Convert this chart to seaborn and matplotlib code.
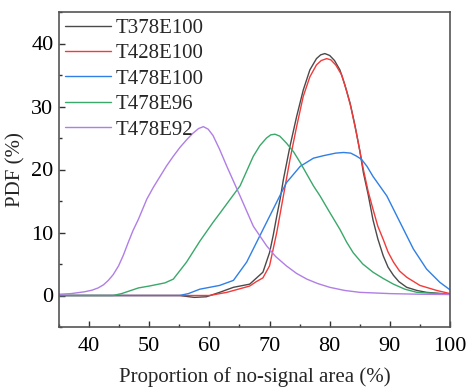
import numpy as np
import pandas as pd
import matplotlib
matplotlib.use("Agg")
import matplotlib.pyplot as plt
import seaborn as sns
from matplotlib.ticker import MultipleLocator

# ---- data ----
x_t378e100 = [35, 40, 45, 50, 55, 57.5, 59.5, 61.7, 64, 66.7, 68.9, 70, 70.6, 71.2, 71.8, 72.3, 73.4, 74.5,
              75.6, 76.7, 77.8, 78.5, 79.2, 80, 80.8, 81.7, 82.5, 83.4, 84.2, 85, 85.6, 86.4, 87.2, 88,
              88.9, 89.7, 90.6, 91.5, 92.8, 94.5, 96.1, 100]
y_t378e100 = [0, 0, 0, 0, 0, -0.3, -0.2, 0.5, 1.3, 1.8, 3.7, 6.8, 9.5, 12.6, 15.5, 18.4, 23.7, 28.4,
              32.6, 35.8, 37.6, 38.2, 38.4, 38.1, 37.3, 35.8, 33.5, 30.5, 27.0, 23.0, 19.5, 16.0, 12.0, 9.0,
              6.3, 4.5, 3.2, 2.2, 1.3, 0.8, 0.5, 0.2]

x_t428e100 = [35, 40, 45, 50, 55, 58, 60, 62.9, 66.7, 67.8, 68.9, 70, 71.2, 72.3, 73.4, 74.5,
              75.6, 76.7, 77.8, 78.6, 79.5, 80.2, 81, 82, 82.8, 83.5, 84.5, 85.6, 86.4, 87.2, 88,
              88.9, 89.7, 90.6, 91.6, 92.8, 95, 97.8, 100]
y_t428e100 = [0, 0, 0, 0, 0, 0, 0, 0.5, 1.5, 2.2, 2.8, 4.7, 10.0, 15.8, 21.6, 26.8,
              31.6, 34.7, 36.6, 37.3, 37.6, 37.4, 36.6, 35.0, 32.5, 30.0, 25.5, 20.0, 16.5, 13.7, 11.0,
              8.9, 6.9, 5.3, 3.9, 2.9, 1.6, 0.8, 0.3]

x_t478e100 = [35, 40, 45, 50, 55, 56.5, 58.4, 61.7, 64, 66.2, 68.4, 70.6, 72.8, 75.1, 77.3, 79,
              81, 82.3, 83.5, 84.5, 85.3, 86.2, 87.2, 89.5, 91.7, 93.9, 96.1, 98.3, 100]
y_t478e100 = [0, 0, 0, 0, 0, 0.3, 1.0, 1.6, 2.4, 5.3, 9.5, 13.7, 17.9, 20.5, 21.8, 22.2,
              22.6, 22.7, 22.6, 22.1, 21.6, 20.5, 18.9, 15.8, 11.6, 7.4, 4.2, 2.1, 0.9]

x_t478e96 = [35, 40, 44, 45.4, 48.2, 50, 52.6, 54, 56.2, 58.4, 60.6, 61.7, 63.4, 65.1, 67.3, 68.4,
             69.5, 70.2, 70.9, 71.7, 72.8, 74, 75.1, 77.3, 78.4, 80, 81.7, 82.8, 83.9, 85.5, 87.2,
             88.9, 90.6, 92.5, 94.5, 100]
y_t478e96 = [0, 0, 0, 0.3, 1.2, 1.5, 2.0, 2.6, 5.3, 8.6, 11.6, 13.0, 15.2, 17.4, 22.1, 23.8,
             25.0, 25.5, 25.6, 25.3, 24.2, 22.8, 21.1, 17.4, 15.8, 13.2, 10.5, 8.5, 6.8, 5.0, 3.7,
             2.7, 1.8, 1.0, 0.5, 0.2]

x_t478e92 = [35, 37, 39.3, 40.5, 41.5, 42.4, 43.2, 44, 44.9, 45.7, 46.5, 47.3, 48.2, 49.6, 50.7,
             51.8, 52.9, 54, 55.1, 56.2, 57.2, 58.2, 59, 59.8, 60.6, 61.7, 62.9, 65.1, 67.3, 69.5,
             71, 72.8, 74.5, 76.2, 78, 80, 82.5, 85, 90, 95, 100]
y_t478e92 = [0.2, 0.3, 0.6, 0.85, 1.2, 1.7, 2.4, 3.3, 4.7, 6.4, 8.4, 10.3, 12.1, 15.3, 17.2,
             18.9, 20.6, 22.1, 23.5, 24.7, 25.7, 26.5, 26.8, 26.4, 25.4, 23.2, 20.5, 15.8, 11.0, 7.9,
             6.2, 4.7, 3.5, 2.6, 1.9, 1.3, 0.8, 0.5, 0.3, 0.2, 0.15]

series_names = ["T378E100", "T428E100", "T478E100", "T478E96", "T478E92"]
series_x = [x_t378e100, x_t428e100, x_t478e100, x_t478e96, x_t478e92]
series_y = [y_t378e100, y_t428e100, y_t478e100, y_t478e96, y_t478e92]
colors = ["#4a4a4a", "#f23a3a", "#2f7fe6", "#3aa86a", "#b07ee6"]

frames = []
for name, xs, ys in zip(series_names, series_x, series_y):
    frames.append(pd.DataFrame({"x": xs, "y": ys, "series": name}))
df = pd.concat(frames, ignore_index=True)

# ---- styling ----
sns.set_theme(style="ticks")
plt.rcParams["font.family"] = ["Liberation Serif", "DejaVu Serif"]
plt.rcParams["lines.solid_joinstyle"] = "round"

fig = plt.figure(figsize=(4.67, 3.88), dpi=100)
ax = fig.add_axes([59 / 467, 1 - 327 / 388, (450 - 59) / 467, (327 - 12) / 388])

sns.lineplot(data=df, x="x", y="y", hue="series", hue_order=series_names,
             palette=colors, linewidth=1.0, sort=False, estimator=None, ax=ax)

ax.set_xlim(35, 100)
ax.set_ylim(-5, 45)
ax.xaxis.set_major_locator(MultipleLocator(10))
ax.xaxis.set_minor_locator(MultipleLocator(5))
ax.yaxis.set_major_locator(MultipleLocator(10))
ax.yaxis.set_minor_locator(MultipleLocator(5))
ax.tick_params(which="both", direction="in", top=False, right=False,
               colors="#333333", labelcolor="black")
ax.tick_params(which="major", length=4.5, width=1.0, labelsize=16)
ax.tick_params(axis="y", which="major", pad=4)
ax.tick_params(axis="x", which="major", pad=7)
ax.tick_params(which="minor", length=2.5, width=1.0)
for s in ax.spines.values():
    s.set_color("#555555")
    s.set_linewidth(1.2)

ax.set_xlabel("Proportion of no-signal area (%)", fontsize=15, labelpad=8)
ax.set_ylabel("PDF (%)", fontsize=15, labelpad=4)

leg = ax.legend(loc="upper left", frameon=False, fontsize=15, handlelength=2.2,
                handletextpad=0.2, labelspacing=0.28, borderaxespad=0.15, borderpad=0.15)

fig.savefig("out.png", dpi=100)
